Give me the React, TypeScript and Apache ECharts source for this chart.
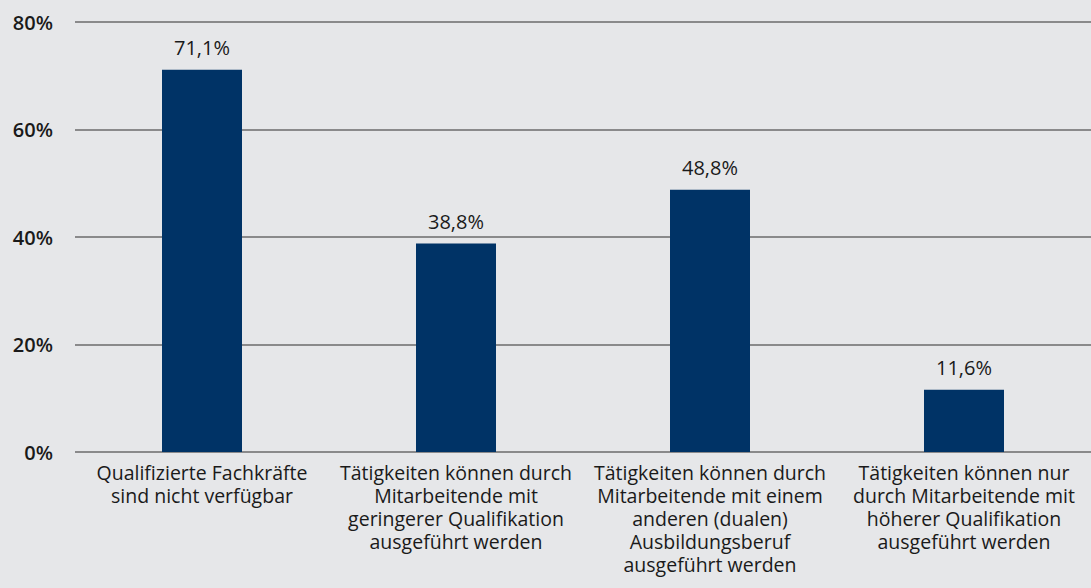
import React, { useEffect, useRef } from "react";
import * as echarts from "echarts";

const categories = [
  "Qualifizierte Fachkräfte\nsind nicht verfügbar",
  "Tätigkeiten können durch\nMitarbeitende mit\ngeringerer Qualifikation\nausgeführt werden",
  "Tätigkeiten können durch\nMitarbeitende mit einem\nanderen (dualen)\nAusbildungsberuf\nausgeführt werden",
  "Tätigkeiten können nur\ndurch Mitarbeitende mit\nhöherer Qualifikation\nausgeführt werden",
];
const values = [71.1, 38.8, 48.8, 11.6];
const yTicks = { min: 0, max: 80, interval: 20 };

const FONT = "'Open Sans', 'Noto Sans', sans-serif";

export default function App() {
  const ref = useRef<HTMLDivElement>(null);
  useEffect(() => {
    if (!ref.current) return;
    const chart = echarts.init(ref.current, undefined, { renderer: "svg" });
    chart.setOption({
      animation: false,
      backgroundColor: "#e6e7e9",
      grid: { left: 75, right: 0, top: 22, bottom: 136, containLabel: false },
      xAxis: {
        type: "category",
        data: categories,
        axisLine: { show: false },
        axisTick: { show: false },
        axisLabel: {
          interval: 0,
          color: "#1a1a1a",
          fontFamily: FONT,
          fontSize: 19.5,
          lineHeight: 23,
          margin: 9,
          align: "center",
        },
      },
      yAxis: {
        type: "value",
        min: yTicks.min,
        max: yTicks.max,
        interval: yTicks.interval,
        axisLine: { show: false },
        axisTick: { show: false },
        axisLabel: {
          formatter: "{value}%",
          color: "#1a1a1a",
          fontFamily: FONT,
          fontSize: 20,
          fontWeight: 600,
          margin: 22,
        },
        splitLine: { lineStyle: { color: "#6b6b6b", width: 1.5 } },
      },
      series: [
        {
          type: "bar",
          data: values,
          barWidth: 80,
          itemStyle: { color: "#003366" },
          label: {
            show: true,
            position: "top",
            distance: 12,
            color: "#1a1a1a",
            fontFamily: FONT,
            fontSize: 20,
            formatter: (p: any) => p.value.toFixed(1).replace(".", ",") + "%",
          },
        },
      ],
    });
    return () => chart.dispose();
  }, []);
  return (
    <div
      ref={ref}
      style={{ position: "fixed", left: 0, top: 0, width: 1091, height: 588 }}
    />
  );
}
